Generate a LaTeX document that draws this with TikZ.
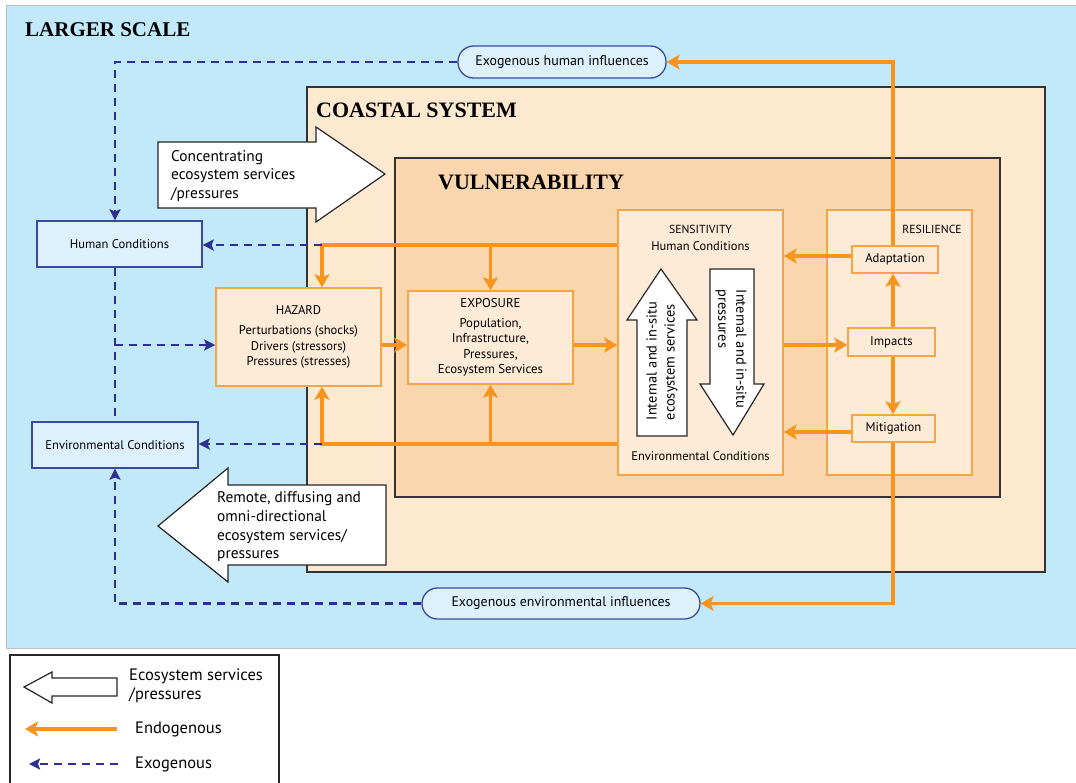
\documentclass[tikz,border=0pt]{standalone}
\usepackage{fontspec}
\setmainfont{PT Sans}
\newfontfamily\titlefont{Liberation Serif}
\usetikzlibrary{arrows.meta,calc}
\definecolor{bgblue}{HTML}{C1E9F9}
\definecolor{coastal}{HTML}{FDE8D0}
\definecolor{vuln}{HTML}{FAD6AE}
\definecolor{innerfill}{HTML}{FDEBD7}
\definecolor{boxorange}{HTML}{F5A447}
\definecolor{endoorange}{HTML}{F7941D}
\definecolor{exoblue}{HTML}{2E3192}
\definecolor{bluefill}{HTML}{DDF1FC}
\definecolor{blueborder}{HTML}{3B4A9C}
\tikzset{
  titletext/.style={font=\titlefont\bfseries\fontsize{22}{24}\selectfont, inner sep=0pt},
  innerbox/.style={draw=boxorange, line width=1.5pt, fill=innerfill, align=center, inner sep=0pt},
  smallbox/.style={draw=boxorange, line width=1.5pt, fill=innerfill, align=center, inner sep=0pt, font=\fontsize{12.7}{15}\selectfont},
  bluebox/.style={draw=blueborder, line width=1.3pt, fill=bluefill, align=center, inner sep=0pt, font=\fontsize{12.6}{14}\selectfont},
  pill/.style={draw=blueborder, line width=1.3pt, fill=bluefill, align=center, inner sep=0pt, rounded corners=15.5pt, font=\fontsize{13.9}{15}\selectfont},
  boxtext/.style={font=\fontsize{12.5}{15.5}\selectfont, align=center, inner sep=0pt},
  endo/.style={draw=endoorange, line width=3.5pt, -{Stealth[length=13pt,width=15pt,inset=3pt]}},
  endoline/.style={draw=endoorange, line width=3.5pt},
  exo/.style={draw=exoblue, line width=2.8pt, dash pattern=on 8pt off 6pt, -{Stealth[length=11pt,width=11pt,inset=2pt]}},
  exoline/.style={draw=exoblue, line width=2.8pt, dash pattern=on 8pt off 6pt},
  blockarrow/.style={draw=black!85, line width=1.2pt, fill=white, line join=miter},
  bigtext/.style={font=\fontsize{15.4}{18.7}\selectfont, align=left, inner sep=0pt},
  rottext/.style={font=\fontsize{14.4}{18}\selectfont, align=left, inner sep=0pt},
  legtext/.style={font=\fontsize{16.5}{19.5}\selectfont, align=left, inner sep=0pt, anchor=west},
}
\begin{document}
\begin{tikzpicture}[x=1pt,y=-1pt]
\useasboundingbox (0,0) rectangle (1076,782);
\fill[white] (0,0) rectangle (1076,782);
% larger scale background
\draw[draw=black!25, line width=1pt, fill=bgblue] (6,5) rectangle (1082,648);
\node[titletext, font=\titlefont\bfseries\fontsize{21}{23}\selectfont, anchor=base west] (tLarger) at (25,36) {LARGER SCALE};
% coastal system
\draw[fill=coastal, draw=black!80, line width=1.2pt] (307,87) rectangle (1045,572);
\node[titletext, anchor=base west] (tCoastal) at (316,117) {COASTAL SYSTEM};
% vulnerability
\draw[fill=vuln, draw=black!80, line width=1.2pt] (395,158) rectangle (1000,497);
\node[titletext, anchor=base west] (tVuln) at (438,189) {VULNERABILITY};

% big block arrows
\draw[blockarrow] (158,142) -- (316,142) -- (316,127) -- (385,174) -- (316,222) -- (316,208) -- (158,208) -- cycle;
\node[bigtext, anchor=west] (tConc) at (171,176) {Concentrating\\ecosystem services\\/pressures};
\draw[blockarrow] (386,485) -- (228,485) -- (228,468) -- (158,526) -- (228,582) -- (228,565) -- (386,565) -- cycle;
\node[bigtext, anchor=west] (tRemote) at (217,527) {Remote, diffusing and\\omni-directional\\ecosystem services/\\pressures};

% left blue boxes
\node[bluebox, minimum width=165pt, minimum height=46pt] (hum) at (119.5,244) {Human Conditions};
\node[bluebox, minimum width=166pt, minimum height=46pt] (env) at (115,445) {Environmental Conditions};

% pills
\node[pill, minimum width=208pt, minimum height=32pt] (pillH) at (562,62) {Exogenous human influences};
\node[pill, minimum width=278pt, minimum height=31pt] (pillE) at (561,603.5) {Exogenous environmental influences};

% inner boxes
\node[innerbox, minimum width=165pt, minimum height=98pt, font=\fontsize{12.6}{15.5}\selectfont] (haz) at (298.5,337) {HAZARD\\[5pt]Perturbations (shocks)\\Drivers (stressors)\\Pressures (stresses)};
\node[innerbox, minimum width=165pt, minimum height=93pt, font=\fontsize{12.8}{15.5}\selectfont] (exp) at (490.5,337.5) {EXPOSURE\\[4pt]Population,\\Infrastructure,\\Pressures,\\Ecosystem Services};
\node[innerbox, minimum width=165pt, minimum height=265pt] (sens) at (700.5,342.5) {};
\node[innerbox, minimum width=145pt, minimum height=265pt] (res) at (899.5,342.5) {};
\node[boxtext, font=\fontsize{11.7}{14}\selectfont] (tSens) at (700.5,229) {SENSITIVITY};
\node[boxtext] (tSensHum) at (700.5,246) {Human Conditions};
\node[boxtext] (tSensEnv) at (700.5,456) {Environmental Conditions};
\node[boxtext, font=\fontsize{11.7}{14}\selectfont] (tRes) at (932,229) {RESILIENCE};

% sensitivity internal arrows
\draw[blockarrow] (637,436) -- (637,320) -- (627,320) -- (661,269) -- (697,320) -- (687,320) -- (687,436) -- cycle;
\node[rottext, rotate=90] (tUp) at (662,361) {Internal and in-situ\\ecosystem services};
\draw[blockarrow] (710,269) -- (754,269) -- (754,384) -- (764,384) -- (733,435) -- (700,384) -- (710,384) -- cycle;
\node[rottext, rotate=-90] (tDown) at (731,349) {Internal and in-situ\\pressures};

% resilience boxes
\node[smallbox, minimum width=86pt, minimum height=27pt] (adap) at (895,259.5) {Adaptation};
\node[smallbox, minimum width=87pt, minimum height=28pt] (imp) at (891.5,342) {Impacts};
\node[smallbox, minimum width=83pt, minimum height=27pt] (mit) at (893.5,428.5) {Mitigation};

% helper coordinates
\coordinate (tl) at (322,245);
\coordinate (bl) at (322,444);
\coordinate (row) at (0,345);
\coordinate (vx) at (893,0);
\coordinate (lx) at (115,0);

% endogenous connectors
\draw[endo] (sens.west |- tl) -- (tl) -- (haz.north -| tl);
\draw[endo] (exp.north |- tl) -- (exp.north);
\draw[endo] (sens.west |- bl) -- (bl) -- (haz.south -| bl);
\draw[endo] (exp.south |- bl) -- (exp.south);
\draw[endo] (haz.east |- row) -- (exp.west |- row);
\draw[endo] (exp.east |- row) -- (sens.west |- row);
\draw[endo] (sens.east |- row) -- (imp.west |- row);
\draw[endo] (imp.north -| vx) -- (adap.south -| vx);
\draw[endo] (imp.south -| vx) -- (mit.north -| vx);
\draw[endo] (adap.west |- 0,256) -- (sens.east |- 0,256);
\draw[endo] (mit.west |- 0,432) -- (sens.east |- 0,432);
\draw[endo] (adap.north -| vx) |- (pillH.east);
\draw[endo] (mit.south -| vx) |- (pillE.east);

% exogenous connectors
\draw[exo] (tl) -- (hum.east |- tl);
\draw[exo] (bl) -- (env.east |- bl);
\draw[exo] (pillH.west) -| (hum.north -| lx);
\draw[exoline] (hum.south -| lx) -- (env.north -| lx);
\draw[exo] (lx |- row) -- (haz.west |- row);
\draw[exo] (pillE.west) -| (env.south -| lx);

% legend
\draw[draw=black!85, line width=1.2pt, fill=white] (10,655) rectangle (279,800);
\draw[blockarrow] (117,678) -- (52,678) -- (52,672) -- (24,687) -- (52,703) -- (52,696) -- (117,696) -- cycle;
\node[legtext] (lgEco) at (129,686) {Ecosystem services\\/pressures};
\coordinate (lgEndoA) at (117,729);
\coordinate (lgEndoB) at (25,729);
\draw[endo] (lgEndoA) -- (lgEndoB);
\node[legtext] (lgEndo) at (135,729) {Endogenous};
\coordinate (lgExoA) at (118,764);
\coordinate (lgExoB) at (29,764);
\draw[exo] (lgExoA) -- (lgExoB);
\node[legtext] (lgExo) at (135,764) {Exogenous};
\end{tikzpicture}
\end{document}
